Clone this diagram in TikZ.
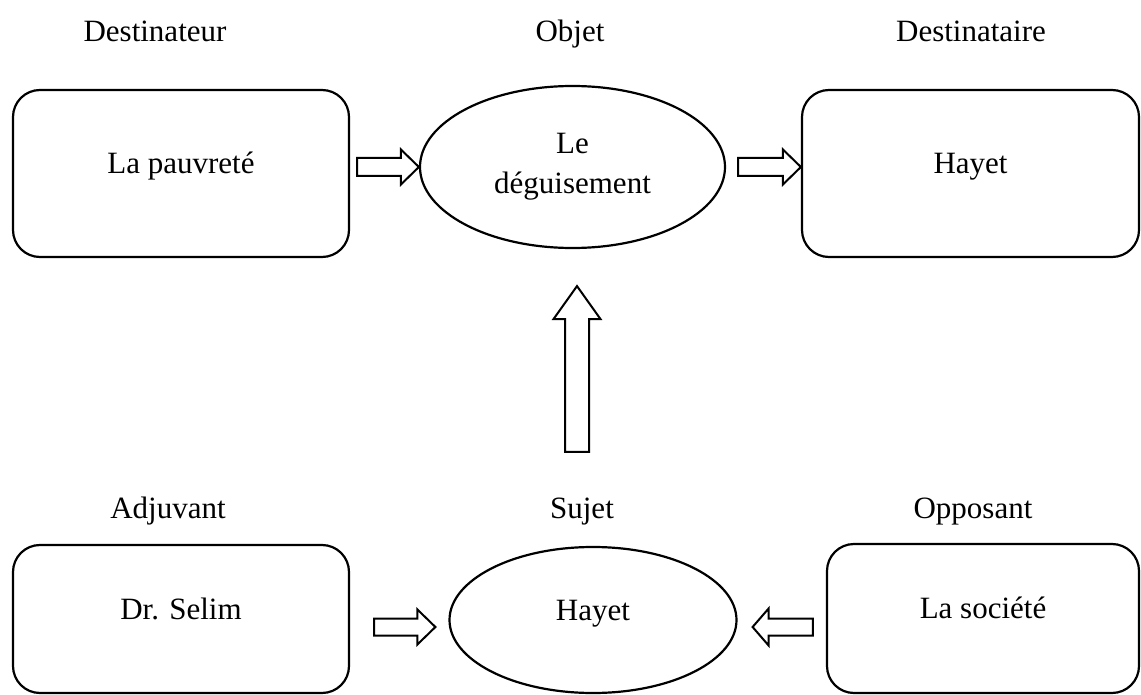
\documentclass[tikz,border=0pt]{standalone}
\usepackage{fontspec}
\setmainfont{Liberation Serif}
\usetikzlibrary{shapes.geometric,calc}
\tikzset{
  every node/.style={font=\fontsize{31}{40}\selectfont},
  boxnode/.style={draw, line width=2.2pt, rounded corners=27pt, inner sep=0pt, text height=20pt, text depth=20pt},
  ellnode/.style={draw, ellipse, line width=2.2pt, inner sep=0pt, align=center},
  lbl/.style={inner sep=0pt, anchor=base},
  blockarrow/.style={draw, line width=2pt, fill=white, line join=miter}
}
\newcommand{\blockarr}[5]{%
  \coordinate (ba-s) at (#1);
  \coordinate (ba-t) at (#2);
  \coordinate (ba-b) at ($(ba-t)!#5!(ba-s)$);
  \draw[blockarrow] ($(ba-s)!#3!90:(ba-t)$) -- ($(ba-b)!#3!-90:(ba-s)$) -- ($(ba-b)!#4!-90:(ba-s)$) -- (ba-t) -- ($(ba-b)!#4!90:(ba-s)$) -- ($(ba-b)!#3!90:(ba-s)$) -- ($(ba-s)!#3!-90:(ba-t)$) -- cycle;
}
\begin{document}
\begin{tikzpicture}[x=1pt,y=-1pt]
\useasboundingbox[fill=white] (0,0) rectangle (1141,695);
% top row
\node[boxnode, minimum width=336pt, minimum height=167pt] (dtr) at (181,173.5) {La pauvreté};
\node[ellnode, minimum width=305pt, minimum height=162pt] (obj) at (572.5,167) {Le\\déguisement};
\node[boxnode, minimum width=337pt, minimum height=167pt] (dte) at (970.5,173.5) {Hayet};
% bottom row
\node[boxnode, minimum width=336pt, minimum height=148pt] (adj) at (181,619) {Dr. Selim};
\node[ellnode, minimum width=287pt, minimum height=146pt, text height=20pt, text depth=20pt] (suj) at (593,620) {Hayet};
\node[boxnode, minimum width=312pt, minimum height=149pt] (opp) at (983,618.5) {La société};
% labels
\node[lbl] (l1) at (155,42) {Destinateur};
\node[lbl] (l2) at (570,42) {Objet};
\node[lbl] (l3) at (971,42) {Destinataire};
\node[lbl] (l4) at (168,518) {Adjuvant};
\node[lbl] (l5) at (582,518) {Sujet};
\node[lbl] (l6) at (973,518) {Opposant};
% arrows
\blockarr{$(dtr.east |- obj.west)+(7,0)$}{obj.west}{9pt}{17.5pt}{18pt}
\blockarr{$(obj.east)+(12,0)$}{dte.west |- obj.east}{9pt}{17.5pt}{18pt}
\blockarr{$(suj.north)+(-16,-94)$}{$(obj.south)+(4.5,37)$}{12pt}{23.5pt}{33pt}
\blockarr{$(adj.east)+(24,8)$}{$(suj.west)+(-13,7)$}{8.5pt}{17.5pt}{18pt}
\blockarr{$(opp.west)+(-13,8.5)$}{$(suj.east)+(15,7)$}{8.5pt}{18.5pt}{16pt}
\end{tikzpicture}
\end{document}
